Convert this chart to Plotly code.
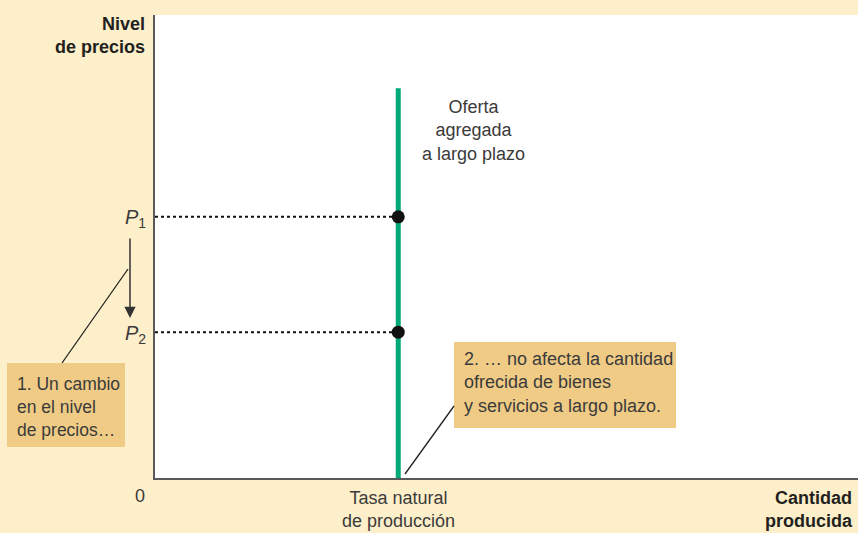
import plotly.graph_objects as go

# chart values (axis units 0-100 on both axes)
natural_output = 34.6          # tasa natural de producción
las_top = 84.2                 # where the long-run supply line ends
price_levels = [56.4, 31.5]    # P1, P2
price_labels = ["P<sub>1</sub>", "P<sub>2</sub>"]

W, H = 858, 533
L, R, T, B = 155, 0, 15, 55

BG = "#FDEFC9"
BOX = "#EFCB86"
GREEN = "#00A87A"
TXT = "#3b3b3b"
BOLD = "#231F20"
FONT = "Liberation Sans, Arial, sans-serif"


def px(x):
    return (x - L) / (W - L - R)


def py(y):
    return (H - B - y) / (H - T - B)


fig = go.Figure()

# dotted guides from the y axis to the supply line
for p in price_levels:
    fig.add_trace(go.Scatter(x=[0, natural_output], y=[p, p], mode="lines",
                             line=dict(color="#111", width=2, dash="dot"),
                             hoverinfo="skip"))

# vertical long-run aggregate supply
fig.add_trace(go.Scatter(x=[natural_output, natural_output], y=[0, las_top],
                         mode="lines", line=dict(color=GREEN, width=5),
                         hoverinfo="skip"))

fig.add_trace(go.Scatter(x=[natural_output] * len(price_levels), y=price_levels,
                         mode="markers", marker=dict(color="#111", size=13),
                         hoverinfo="skip"))

annotations = []


def text(x, y, s, size=18, bold=False, xanchor="center", align="center",
         color=TXT, **kw):
    annotations.append(dict(
        x=px(x), y=py(y), xref="paper", yref="paper", text=s, showarrow=False,
        xanchor=xanchor, yanchor="middle", align=align,
        font=dict(family=FONT, size=size, color=BOLD if bold else color), **kw))


text(147, 35, "<b>Nivel</b><br><b>de precios</b>", bold=True,
     xanchor="right", align="right")
text(855, 509, "<b>Cantidad</b><br><b>producida</b>", bold=True,
     xanchor="right", align="right")
text(140, 496, "0", xanchor="center")
text(398, 509, "Tasa natural<br>de producción")
text(473, 130, "Oferta<br>agregada<br>a largo plazo")

# price labels on the y axis
for lab, p in zip(price_labels, price_levels):
    annotations.append(dict(
        x=0, y=p, xref="x", yref="y", text="<i>" + lab.replace("<sub>", "</i><sub>"),
        showarrow=False, xanchor="right", yanchor="middle", xshift=-7, yshift=-2,
        font=dict(family=FONT, size=20, color=TXT)))

# arrow P1 -> P2
annotations.append(dict(
    x=px(130), y=py(318), xref="paper", yref="paper", ax=0, ay=-81,
    axref="pixel", ayref="pixel", text="", showarrow=True,
    arrowhead=2, arrowsize=1.5, arrowwidth=1.5, arrowcolor="#333"))

# callout boxes
text(15, 407, "1. Un cambio<br>en el nivel<br>de precios…", xanchor="left",
     align="left", size=17.5)
text(462, 382, "2. … no afecta la cantidad<br>ofrecida de bienes<br>"
     "y servicios a largo plazo.", xanchor="left", align="left", size=18)

shapes = [
    dict(type="rect", xref="paper", yref="paper", x0=px(7), x1=px(125),
         y0=py(447), y1=py(363), fillcolor=BOX, line=dict(width=0), layer="below"),
    dict(type="rect", xref="paper", yref="paper", x0=px(454), x1=px(676),
         y0=py(428), y1=py(342), fillcolor=BOX, line=dict(width=0), layer="below"),
    dict(type="line", xref="paper", yref="paper", x0=px(128), y0=py(269),
         x1=px(62), y1=py(363), line=dict(color="#222", width=1.3)),
    dict(type="line", xref="paper", yref="paper", x0=px(454), y0=py(406),
         x1=px(405), y1=py(474), line=dict(color="#222", width=1.3)),
]

fig.update_layout(
    width=W, height=H,
    margin=dict(l=L, r=R, t=T, b=B),
    paper_bgcolor=BG, plot_bgcolor="white",
    showlegend=False,
    annotations=annotations,
    shapes=shapes,
    xaxis=dict(range=[0, 100], showgrid=False, zeroline=False,
               showticklabels=False, ticks="", showline=True,
               linecolor="#58595B", linewidth=2),
    yaxis=dict(range=[0, 100], showgrid=False, zeroline=False,
               showticklabels=False, ticks="", showline=True,
               linecolor="#58595B", linewidth=2),
)

fig.write_html("out.html", config={"displayModeBar": False},
               post_script="document.body.style.margin='0';")
